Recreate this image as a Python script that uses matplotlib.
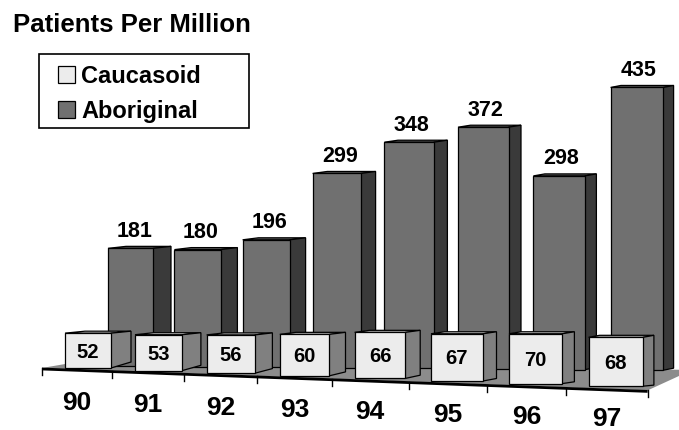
import matplotlib
matplotlib.use("Agg")
import matplotlib.pyplot as plt
from matplotlib.patches import Polygon, Rectangle

plt.rcParams["font.family"] = ["Liberation Sans", "DejaVu Sans"]
plt.rcParams["font.weight"] = "bold"

years = ["90", "91", "92", "93", "94", "95", "96", "97"]
caucasoid = [52, 53, 56, 60, 66, 67, 70, 68]
aboriginal = [181, 180, 196, 299, 348, 372, 298, 435]

C_FRONT, C_SIDE, C_TOP = "#ececec", "#808080", "#d6d6d6"
A_FRONT, A_SIDE, A_TOP = "#707070", "#3a3a3a", "#5c5c5c"
FLOOR = "#8c8c8c"

W, H = 679, 430
fig = plt.figure(figsize=(W / 100, H / 100), dpi=100)
ax = fig.add_axes([0, 0, 1, 1])
ax.set_xlim(0, W)
ax.set_ylim(H, 0)
ax.axis("off")


# front edge of the floor, slot boundary j -> screen position
def edge_x(j):
    return 42 + 69.3 * j + 0.8 * j * j


def edge_y(j):
    return 368 + 2.8 * j


def box(x, yb, w, h, dx, dy_top, dy_bot, front, side, top, z):
    yt = yb - h
    kw = dict(ec="black", lw=0.9, joinstyle="miter", zorder=z)
    ax.add_patch(Polygon([(x, yt), (x + w, yt), (x + w + dx, yt + dy_top),
                          (x + dx, yt + dy_top)], fc=top, **kw))
    ax.add_patch(Polygon([(x + w, yb), (x + w + dx, yb + dy_bot),
                          (x + w + dx, yt + dy_top), (x + w, yt)], fc=side, **kw))
    ax.add_patch(Rectangle((x, yt), w, h, fc=front, **kw))
    return yt


# floor
n = len(years)
ax.add_patch(Polygon([(edge_x(0), edge_y(0)), (edge_x(n), edge_y(n)),
                      (692, 370), (100, 358)], fc=FLOOR, ec="none", zorder=1))
ax.plot([edge_x(0), edge_x(n)], [edge_y(0) + 1, edge_y(n) + 1],
        color="black", lw=2, zorder=1.5, solid_capstyle="butt")
for j in range(n + 1):
    ax.plot([edge_x(j), edge_x(j)], [edge_y(j), edge_y(j) + 7],
            color="black", lw=1, zorder=1.5)

# back row
for i, v in enumerate(aboriginal):
    x = 108 + 65.5 * i + 0.9 * i * i
    w = 45 + 1.1 * i
    dx = 18 - 1.1 * i
    yt = box(x, 366 + 0.6 * i, w, v * 0.65, dx, -2, -2,
             A_FRONT, A_SIDE, A_TOP, 2 + i * 0.01)
    ax.text(x + w / 2 + 0.2 * dx, yt - 11.5, str(v), ha="center",
            va="baseline", fontsize=15.5, fontweight="bold")

# front row
for i, v in enumerate(caucasoid):
    x = 65 + 69.2 * i + 0.8 * i * i
    w = 46 + 1.2 * i
    yb = 368 + 2.6 * i
    h = v * (0.67 + 0.007 * i)
    yt = box(x, yb, w, h, 20 - 1.3 * i, -2, -6 + 0.7 * i,
             C_FRONT, C_SIDE, C_TOP, 3 + i * 0.01)
    ax.text(x + w / 2, (yt + yb) / 2 + 7, str(v), ha="center",
            va="baseline", fontsize=14.5, fontweight="bold", zorder=4)

# category labels
for j, lab in enumerate(years):
    ax.text((edge_x(j) + edge_x(j + 1)) / 2, 410 + 2.3 * j, lab,
            ha="center", va="baseline", fontsize=19, fontweight="bold")

ax.text(13, 32, "Patients Per Million", ha="left", va="baseline",
        fontsize=18.5, fontweight="bold")

# legend
ax.add_patch(Rectangle((39, 54), 210, 74, fc="white", ec="black", lw=1.2, zorder=5))
for yy, col, lab in [(66, C_FRONT, "Caucasoid"), (101, A_FRONT, "Aboriginal")]:
    ax.add_patch(Rectangle((58, yy), 17, 17, fc=col, ec="black", lw=0.9, zorder=6))
    ax.text(81, yy + 17, lab, ha="left", va="baseline", fontsize=17,
            fontweight="bold", zorder=6)

fig.savefig("out.png", dpi=100)
